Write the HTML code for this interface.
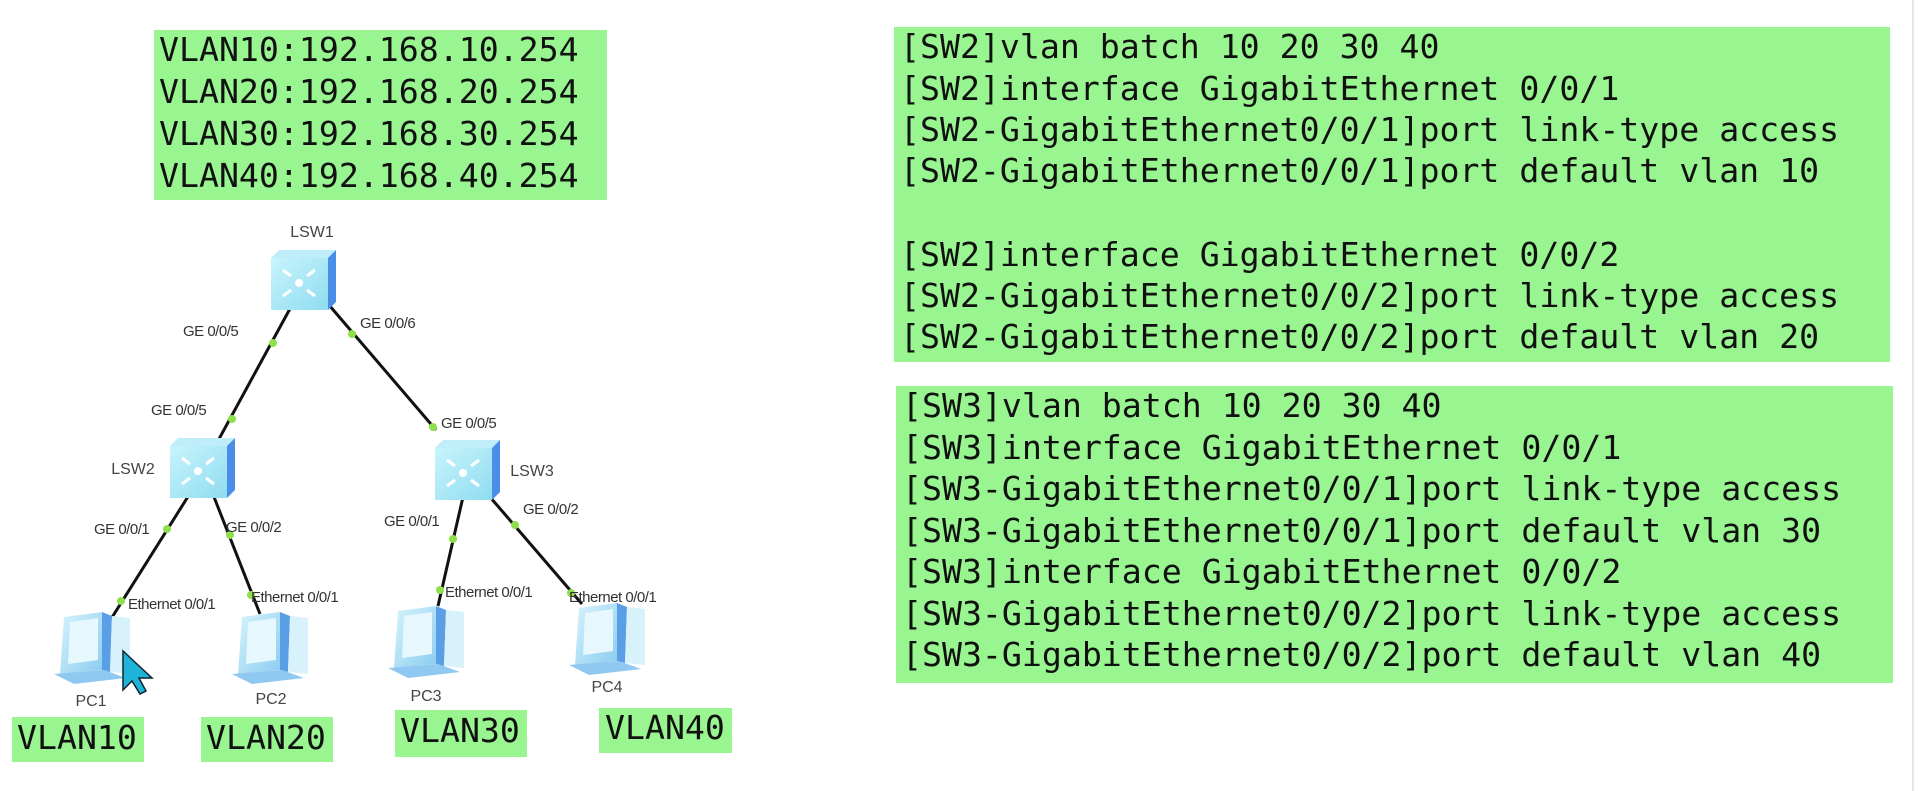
<!DOCTYPE html>
<html><head><meta charset="utf-8"><style>
html,body{margin:0;padding:0;background:#fff;}
svg{display:block;}
.m{font-family:"DejaVu Sans Mono","Liberation Mono",monospace;font-size:33.2px;fill:#111;}
.s{font-family:"Liberation Sans",Arial,sans-serif;font-size:15px;fill:#333;letter-spacing:-0.5px;}
.n{font-family:"Liberation Sans",Arial,sans-serif;font-size:16px;fill:#444;}
</style></head><body>
<svg width="1918" height="791" viewBox="0 0 1918 791" xmlns="http://www.w3.org/2000/svg">
<defs>
<linearGradient id="sf" x1="0" y1="0" x2="1" y2="1"><stop offset="0" stop-color="#c8f4fc"/><stop offset="1" stop-color="#8fdcf0"/></linearGradient>
<linearGradient id="pf" x1="0" y1="0" x2="1" y2="1"><stop offset="0" stop-color="#d6f3fc"/><stop offset="1" stop-color="#8ccdf0"/></linearGradient>
<g id="sw">
<polygon points="0,8 8,0 65,0 57,8" fill="#bfeefa"/>
<rect x="0" y="8" width="57" height="52" fill="url(#sf)"/>
<polygon points="57,8 65,0 65,52 57,60" fill="#4b8ee8"/>
<circle cx="28" cy="33" r="4" fill="#fff"/>
<path d="M12,20 l8,6 M44,20 l-8,6 M12,46 l8,-6 M44,46 l-8,-6" stroke="#fff" stroke-width="3" fill="none"/>
</g>
<g id="pc">
<polygon points="10,5 48,0 48,58 6,62" fill="url(#pf)"/>
<polygon points="48,0 58,4 56,60 48,58" fill="#5a9fe6"/>
<polygon points="58,4 76,6 76,62 56,60" fill="#d8f2fb"/>
<polygon points="0,62 50,58 72,66 20,72" fill="#8fc8f0"/>
<polygon points="16,10 44,6 44,48 14,52" fill="#e6f8fd"/>
</g>
</defs>
<line x1="1913" y1="0" x2="1913" y2="791" stroke="#e6e6e6" stroke-width="2"/>
<rect x="154" y="30" width="453" height="170" fill="#98f58f"/>
<text class="m" x="159" y="61">VLAN10:192.168.10.254</text>
<text class="m" x="159" y="103">VLAN20:192.168.20.254</text>
<text class="m" x="159" y="145">VLAN30:192.168.30.254</text>
<text class="m" x="159" y="187">VLAN40:192.168.40.254</text>
<rect x="894" y="27" width="996" height="335" fill="#98f58f"/>
<text class="m" x="900" y="58">[SW2]vlan batch 10 20 30 40</text>
<text class="m" x="900" y="100">[SW2]interface GigabitEthernet 0/0/1</text>
<text class="m" x="900" y="141">[SW2-GigabitEthernet0/0/1]port link-type access</text>
<text class="m" x="900" y="182">[SW2-GigabitEthernet0/0/1]port default vlan 10</text>
<text class="m" x="900" y="266">[SW2]interface GigabitEthernet 0/0/2</text>
<text class="m" x="900" y="307">[SW2-GigabitEthernet0/0/2]port link-type access</text>
<text class="m" x="900" y="348">[SW2-GigabitEthernet0/0/2]port default vlan 20</text>
<rect x="896" y="386" width="997" height="297" fill="#98f58f"/>
<text class="m" x="902" y="417">[SW3]vlan batch 10 20 30 40</text>
<text class="m" x="902" y="459">[SW3]interface GigabitEthernet 0/0/1</text>
<text class="m" x="902" y="500">[SW3-GigabitEthernet0/0/1]port link-type access</text>
<text class="m" x="902" y="542">[SW3-GigabitEthernet0/0/1]port default vlan 30</text>
<text class="m" x="902" y="583">[SW3]interface GigabitEthernet 0/0/2</text>
<text class="m" x="902" y="625">[SW3-GigabitEthernet0/0/2]port link-type access</text>
<text class="m" x="902" y="666">[SW3-GigabitEthernet0/0/2]port default vlan 40</text>
<g stroke="#111" stroke-width="3">
<line x1="292" y1="305" x2="219" y2="439"/>
<line x1="329" y1="305" x2="436" y2="430"/>
<line x1="189" y1="495" x2="111" y2="619"/>
<line x1="214" y1="497" x2="260" y2="614"/>
<line x1="463" y1="497" x2="438" y2="606"/>
<line x1="490" y1="497" x2="582" y2="604"/>
</g>
<g fill="#8ee04a">
<circle cx="273" cy="343" r="4"/><circle cx="232" cy="419" r="4"/>
<circle cx="352" cy="334" r="4"/><circle cx="433" cy="427" r="4"/>
<circle cx="167" cy="529" r="4"/><circle cx="121" cy="601" r="4"/>
<circle cx="230" cy="535" r="4"/><circle cx="251" cy="595" r="4"/>
<circle cx="453" cy="539" r="4"/><circle cx="440" cy="590" r="4"/>
<circle cx="515" cy="525" r="4"/><circle cx="571" cy="593" r="4"/>
</g>
<use href="#sw" x="271" y="250"/>
<use href="#sw" x="170" y="438"/>
<use href="#sw" x="435" y="440"/>
<text class="n" x="312" y="237" text-anchor="middle">LSW1</text>
<text class="n" x="133" y="474" text-anchor="middle">LSW2</text>
<text class="n" x="532" y="476" text-anchor="middle">LSW3</text>
<text class="s" x="183" y="336">GE 0/0/5</text>
<text class="s" x="360" y="328">GE 0/0/6</text>
<text class="s" x="151" y="415">GE 0/0/5</text>
<text class="s" x="441" y="428">GE 0/0/5</text>
<text class="s" x="94" y="534">GE 0/0/1</text>
<text class="s" x="226" y="532">GE 0/0/2</text>
<text class="s" x="384" y="526">GE 0/0/1</text>
<text class="s" x="523" y="514">GE 0/0/2</text>
<text class="s" x="128" y="609">Ethernet 0/0/1</text>
<text class="s" x="251" y="602">Ethernet 0/0/1</text>
<text class="s" x="445" y="597">Ethernet 0/0/1</text>
<text class="s" x="569" y="602">Ethernet 0/0/1</text>
<use href="#pc" x="54" y="612"/>
<use href="#pc" x="232" y="612"/>
<use href="#pc" x="388" y="606"/>
<use href="#pc" x="569" y="603"/>
<text class="n" x="91" y="706" text-anchor="middle">PC1</text>
<text class="n" x="271" y="704" text-anchor="middle">PC2</text>
<text class="n" x="426" y="701" text-anchor="middle">PC3</text>
<text class="n" x="607" y="692" text-anchor="middle">PC4</text>
<polygon points="123,651 123,690 132,681 140,694 146,691 139,678 152,678" fill="#1fb3d8" stroke="#123" stroke-width="1.5"/>
<rect x="12" y="717" width="132" height="45" fill="#98f58f"/>
<rect x="201" y="717" width="132" height="45" fill="#98f58f"/>
<rect x="395" y="710" width="132" height="47" fill="#98f58f"/>
<rect x="599" y="708" width="133" height="45" fill="#98f58f"/>
<text class="m" x="17" y="749">VLAN10</text>
<text class="m" x="206" y="749">VLAN20</text>
<text class="m" x="400" y="742">VLAN30</text>
<text class="m" x="605" y="739">VLAN40</text>
</svg>
</body></html>
